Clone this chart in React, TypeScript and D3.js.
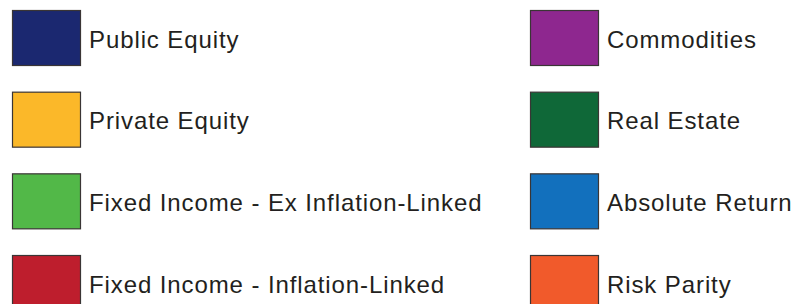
import React from "react";
import * as d3 from "d3";

const leftLabels = [
  "Public Equity",
  "Private Equity",
  "Fixed Income - Ex Inflation-Linked",
  "Fixed Income - Inflation-Linked",
];
const leftColors = ["#1b2870", "#fbb829", "#52b848", "#be1e2d"];

const rightLabels = ["Commodities", "Real Estate", "Absolute Return", "Risk Parity"];
const rightColors = ["#8e278f", "#0f6838", "#1270bd", "#f15a2b"];

const W = 798;
const H = 304;

function Legend() {
  const y = d3.scaleLinear().domain([0, 3]).range([10, 255]);
  const cols = [
    { x: 12, labels: leftLabels, colors: leftColors },
    { x: 530, labels: rightLabels, colors: rightColors },
  ];
  const sw = 68;
  const sh = 55;

  return (
    <svg
      width={W}
      height={H}
      style={{ position: "absolute", left: 0, top: 0, background: "#fff" }}
    >
      {cols.map((c, ci) => (
        <g key={ci} transform={`translate(${c.x},0)`}>
          {c.labels.map((lab, i) => (
            <g key={lab} transform={`translate(0,${y(i)})`}>
              <rect
                x={0.5}
                y={0.5}
                width={sw}
                height={sh}
                fill={c.colors[i]}
                stroke="#3a3535"
                strokeWidth={1.2}
              />
              <text
                x={sw + 9}
                y={sh / 2 + 10}
                fontFamily="'Liberation Sans', Arial, sans-serif"
                fontSize={24}
                letterSpacing={0.9}
                fill="#231f20"
              >
                {lab}
              </text>
            </g>
          ))}
        </g>
      ))}
    </svg>
  );
}

export default function App() {
  return <Legend />;
}
